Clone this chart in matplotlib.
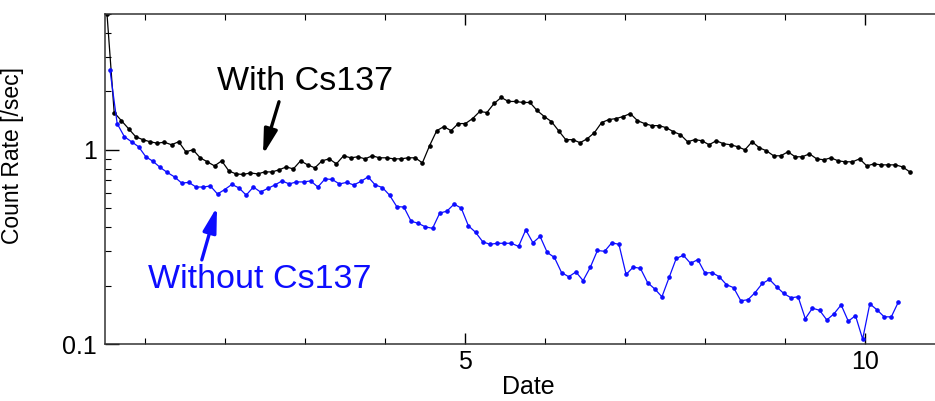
import numpy as np
import matplotlib.pyplot as plt
from matplotlib.ticker import FixedLocator, LogLocator, NullFormatter

plt.rcParams['font.family'] = ['Liberation Sans', 'DejaVu Sans']

# count rates [/sec]
rate_with = [5.0, 1.555, 1.413, 1.285, 1.168, 1.127, 1.10, 1.081, 1.094, 1.061,
             1.10, 0.976, 1.0, 0.909, 0.867, 0.826, 0.877, 0.778, 0.751, 0.746,
             0.760, 0.751, 0.769, 0.769, 0.788, 0.816, 0.797, 0.877, 0.836, 0.807,
             0.877, 0.898, 0.846, 0.931, 0.909, 0.920, 0.898, 0.931, 0.909, 0.909,
             0.898, 0.898, 0.909, 0.909, 0.856, 1.049, 1.254, 1.316, 1.254, 1.364,
             1.364, 1.447, 1.574, 1.555, 1.731, 1.859, 1.773, 1.773, 1.752, 1.752,
             1.593, 1.483, 1.397, 1.254, 1.127, 1.127, 1.087, 1.140, 1.225, 1.380,
             1.430, 1.447, 1.483, 1.536, 1.413, 1.364, 1.331, 1.331, 1.300, 1.240,
             1.196, 1.100, 1.127, 1.113, 1.061, 1.113, 1.074, 1.061, 1.036, 1.0,
             1.10, 1.024, 0.988, 0.931, 0.931, 0.976, 0.920, 0.920, 0.953, 0.898,
             0.888, 0.909, 0.877, 0.867, 0.867, 0.898, 0.826, 0.846, 0.836, 0.836,
             0.836, 0.816, 0.769]

rate_without = [2.57, 1.364, 1.168, 1.100, 1.036, 0.920, 0.872, 0.811, 0.764, 0.725,
                0.674, 0.679, 0.643, 0.643, 0.651, 0.592, 0.624, 0.663, 0.636, 0.584,
                0.643, 0.606, 0.632, 0.659, 0.691, 0.667, 0.683, 0.683, 0.691, 0.643,
                0.708, 0.703, 0.667, 0.679, 0.659, 0.687, 0.725, 0.659, 0.639, 0.584,
                0.510, 0.507, 0.429, 0.418, 0.401, 0.394, 0.472, 0.483, 0.525, 0.501,
                0.406, 0.376, 0.336, 0.326, 0.330, 0.330, 0.330, 0.318, 0.387, 0.332,
                0.358, 0.296, 0.279, 0.233, 0.222, 0.235, 0.212, 0.248, 0.303, 0.300,
                0.332, 0.326, 0.228, 0.249, 0.245, 0.207, 0.192, 0.175, 0.220, 0.276,
                0.286, 0.260, 0.272, 0.232, 0.233, 0.222, 0.202, 0.195, 0.167, 0.169,
                0.184, 0.205, 0.215, 0.197, 0.182, 0.173, 0.175, 0.135, 0.153, 0.149,
                0.133, 0.143, 0.159, 0.131, 0.140, 0.106, 0.161, 0.150, 0.138, 0.138,
                0.165]

# samples taken every ~0.09 day
step = 0.0896
days_with = 0.525 + step * np.arange(len(rate_with))
days_without = 0.5625 + step * np.arange(len(rate_without))

blue = '#0d0dff'

fig = plt.figure(figsize=(9.35, 4.01), dpi=100)
ax = fig.add_axes([105/935, 57/401, 830/935, 330/401])

ax.plot(days_with, rate_with, color='black', lw=0.9, marker='o', ms=2.3)
ax.plot(days_without, rate_without, color=blue, lw=0.9, marker='o', ms=2.3)

ax.set_yscale('log')
ax.set_xlim(0.5, 10.875)
ax.set_ylim(0.1, 5.0)

ax.xaxis.set_major_locator(FixedLocator([5, 10]))
ax.xaxis.set_minor_locator(FixedLocator([1, 2, 3, 4, 6, 7, 8, 9]))
ax.yaxis.set_major_locator(FixedLocator([0.1, 1]))
ax.yaxis.set_major_formatter(plt.FuncFormatter(lambda v, p: '%g' % v))
ax.yaxis.set_minor_locator(LogLocator(base=10, subs=np.arange(2, 10)))
ax.yaxis.set_minor_formatter(NullFormatter())

ax.tick_params(axis='x', which='both', direction='in', top=True, labelsize=18, pad=4)
ax.tick_params(axis='x', which='major', length=8, width=1)
ax.tick_params(axis='x', which='minor', length=4, width=0.8)
ax.tick_params(axis='y', which='both', direction='in', right=False, labelsize=18, pad=6)
ax.tick_params(axis='y', which='major', length=10, width=1)
ax.tick_params(axis='y', which='minor', length=4.5, width=0.8)

ax.spines['right'].set_visible(False)
for s in ['left', 'top', 'bottom']:
    ax.spines[s].set_linewidth(1.1)
    ax.spines[s].set_color('#333333')

ax.set_xlabel('Date', fontsize=18)
ax.xaxis.set_label_coords(0.51, -0.095)
ax.set_ylabel('Count Rate [/sec]', fontsize=16.5)
ax.yaxis.set_label_coords(-0.098, 0.57)

ax.text(3.0, 2.04, 'With Cs137', fontsize=24.5, color='black', ha='center', va='baseline')
ax.annotate('', xy=(2.475, 0.942), xytext=(2.675, 1.767),
            arrowprops=dict(arrowstyle='-|>,head_length=0.75,head_width=0.2',
                            lw=2.4, color='black', shrinkA=0, shrinkB=0, mutation_scale=20))

ax.text(2.44, 0.1945, 'Without Cs137', fontsize=24.5, color=blue, ha='center', va='baseline')
ax.annotate('', xy=(1.9, 0.508), xytext=(1.71, 0.271),
            arrowprops=dict(arrowstyle='-|>,head_length=0.75,head_width=0.2',
                            lw=2.4, color=blue, shrinkA=0, shrinkB=0, mutation_scale=20))

plt.savefig('out.png', dpi=100)
